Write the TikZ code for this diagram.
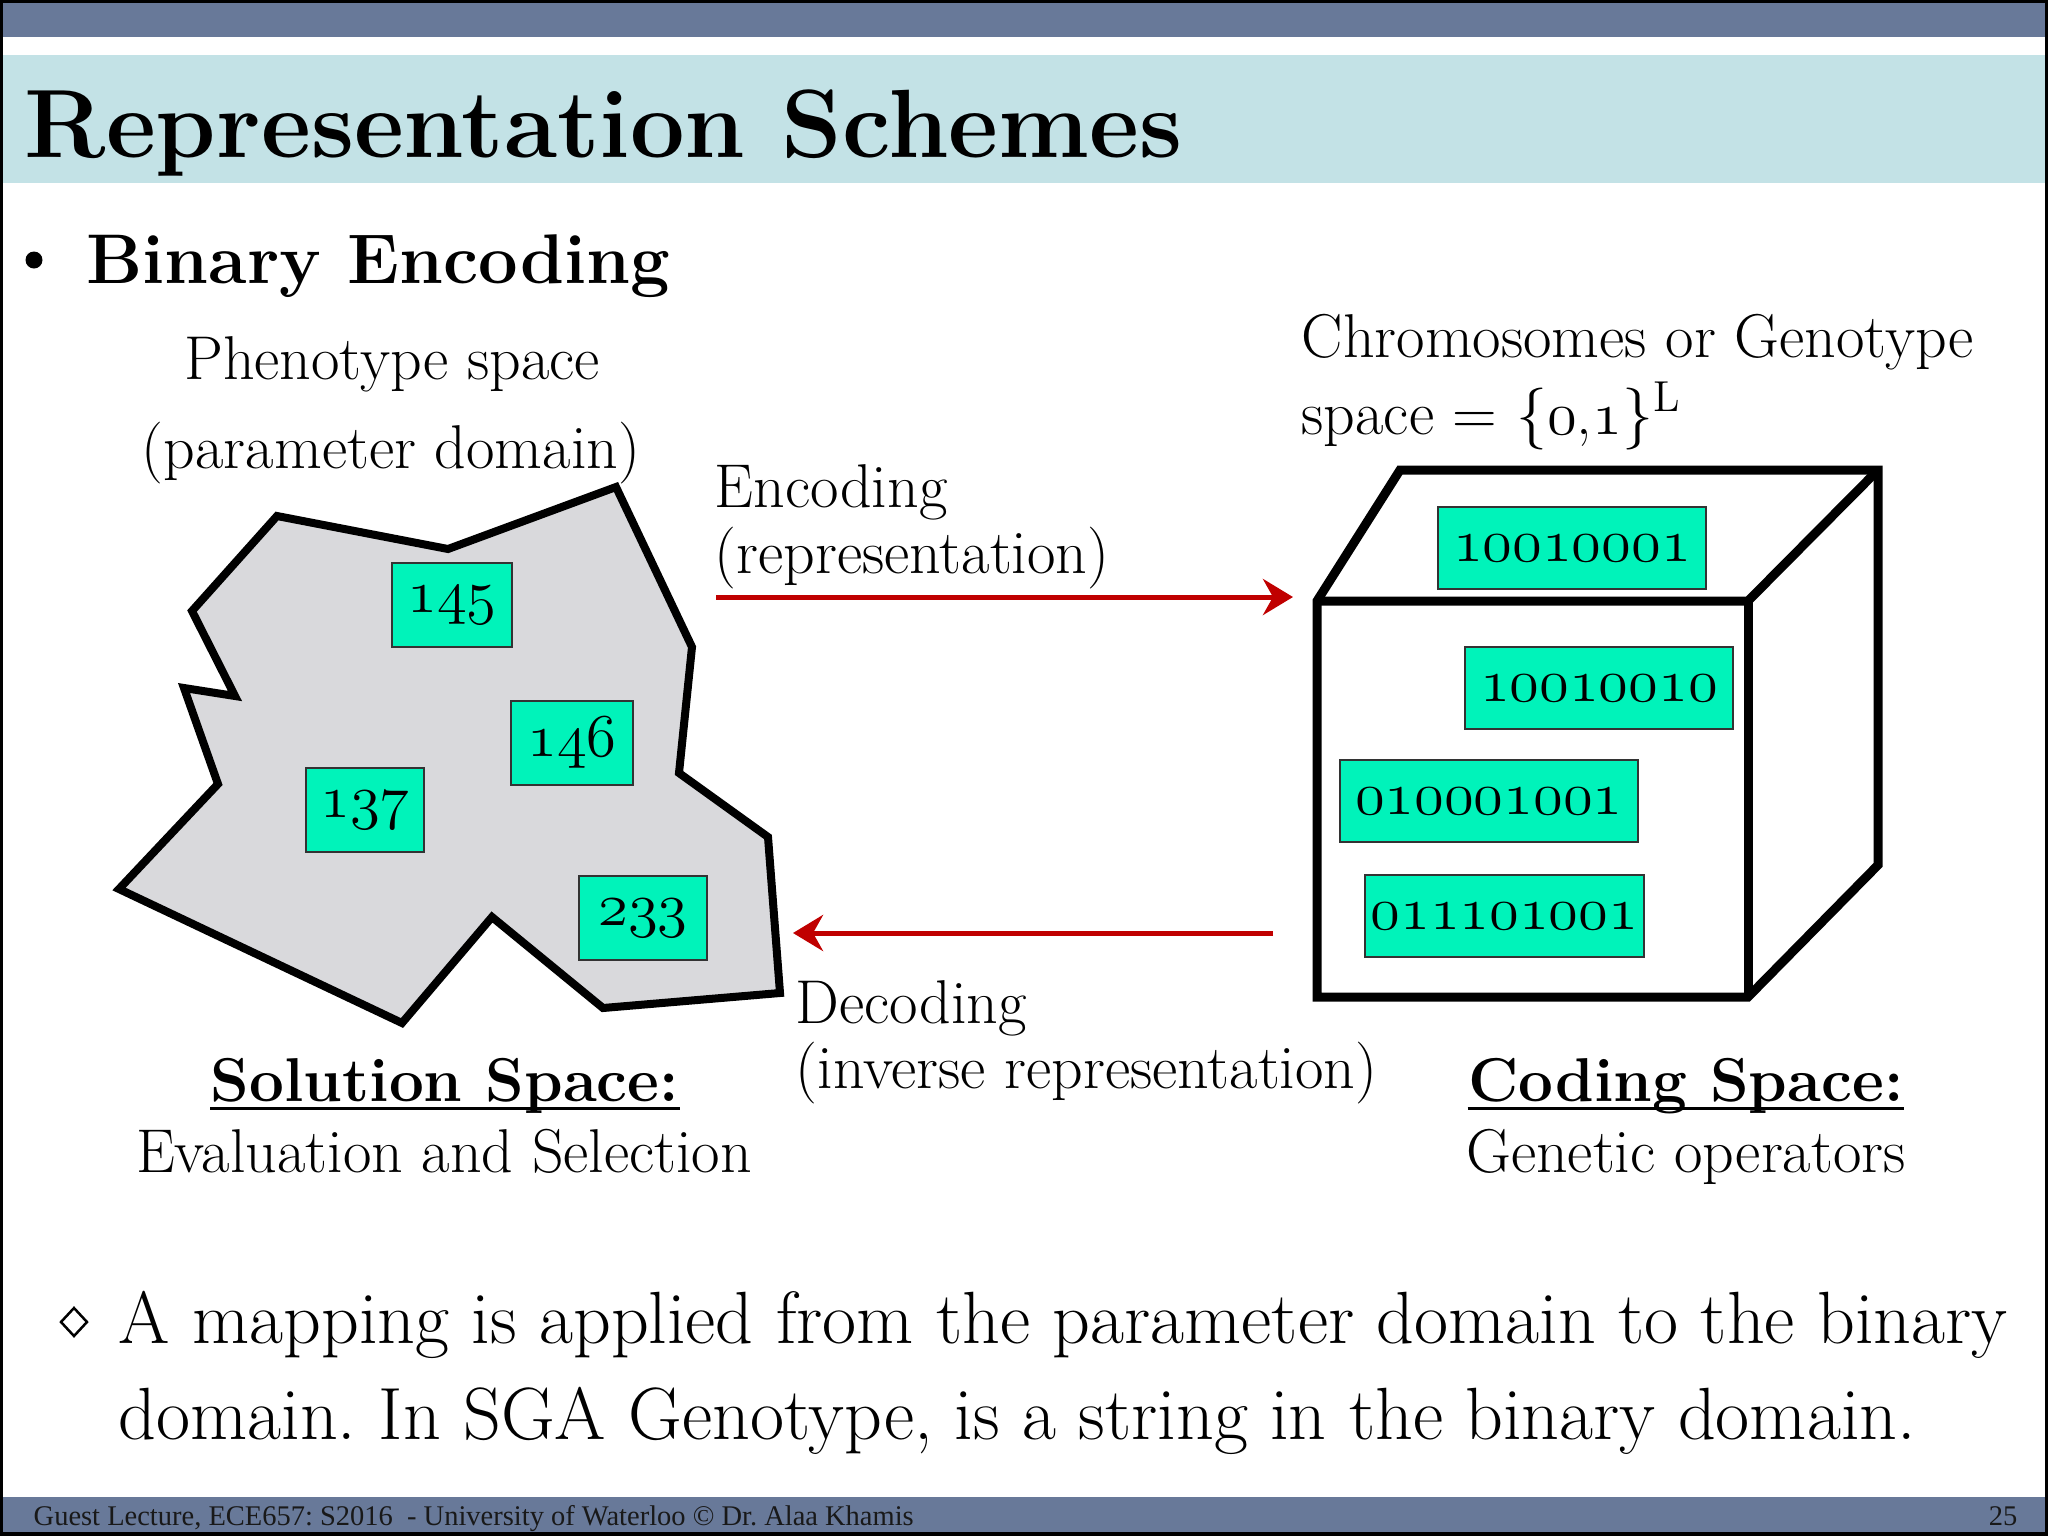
\documentclass[tikz,border=0pt]{standalone}
\usepackage{fontspec}
\newfontfamily\footfont{Liberation Serif}
\usetikzlibrary{arrows.meta}
\definecolor{barblue}{RGB}{104,121,153}
\definecolor{titlebg}{RGB}{195,226,230}
\definecolor{polyfill}{RGB}{217,217,220}
\definecolor{aqua}{RGB}{0,243,186}
\definecolor{arrowred}{RGB}{192,0,0}
\newcommand{\osn}[1]{{\usefont{OML}{cmm}{m}{it}#1}}
\frenchspacing
\tikzset{
  txt/.style={inner sep=0pt, anchor=base west, font=\fontsize{17.6}{21}\selectfont},
  ctxt/.style={inner sep=0pt, anchor=base, font=\fontsize{17.6}{21}\selectfont},
  bigtxt/.style={inner sep=0pt, anchor=base west, font=\fontsize{21.05}{25}\selectfont},
  numbox/.style={draw=black!80, line width=0.015cm, fill=aqua, inner sep=0pt,
    minimum height=0.84cm, font=\fontsize{17}{20}\selectfont},
  binbox/.style={draw=black!80, line width=0.015cm, fill=aqua, inner sep=0pt,
    minimum height=0.82cm, font=\fontsize{16.4}{20}\selectfont},
  redarrow/.style={draw=arrowred, line width=0.05cm,
    -{Stealth[length=0.30cm, width=0.36cm, inset=0.10cm]}},
  thickline/.style={line width=0.09cm, line join=miter},
}
\begin{document}
\begin{tikzpicture}[x=0.01cm, y=-0.01cm]
\useasboundingbox (0,0) rectangle (2048,1536);
% backgrounds
\fill[white] (0,0) rectangle (2048,1536);
\fill[barblue] (0,0) rectangle (2048,37);
\fill[black] (0,0) rectangle (2048,3);
\fill[titlebg] (0,55) rectangle (2048,183);
\fill[barblue] (0,1497) rectangle (2048,1536);
\fill[black] (0,1532) rectangle (2048,1536);
\fill[black] (0,0) rectangle (3,1536);
\fill[black] (2045,0) rectangle (2048,1536);

% title
\node[inner sep=0pt, anchor=base west, font=\fontsize{27.6}{32}\selectfont\bfseries] (title) at (24,157) {Representation Schemes};

% bullet
\fill[black] (34,260) circle (8.5);
\node[inner sep=0pt, anchor=base west, font=\fontsize{20}{24}\selectfont\bfseries] (binenc) at (86,283) {Binary Encoding};

% phenotype labels
\node[ctxt] (pheno1) at (392,379) {Phenotype space};
\node[ctxt] (pheno2) at (391,468) {(parameter domain)};

% genotype labels
\node[txt] (geno1) at (1301,357) {Chromosomes or Genotype};
\node[txt] (geno2) at (1301,434) {space = \{\osn{0},\osn{1}\}\textsuperscript{L}};

% polygon
\filldraw[fill=polyfill, draw=black, line width=0.08cm, line join=miter]
  (277,516) -- (448,549) -- (616,487) -- (692,647) -- (679,773) -- (768,837)
  -- (780,993) -- (603,1008) -- (492,917) -- (402,1023) -- (119,889)
  -- (218,784) -- (184,688) -- (235,696) -- (192,611) -- cycle;

\node[numbox, minimum width=1.20cm] (n145) at (452,605) {\osn{145}};
\node[numbox, minimum width=1.22cm] (n146) at (572,743) {\osn{146}};
\node[numbox, minimum width=1.18cm] (n137) at (365,810) {\osn{137}};
\node[numbox, minimum width=1.28cm] (n233) at (643,918) {\osn{233}};

% cube
\filldraw[fill=white, draw=black, thickline]
  (1317,601) -- (1400,470) -- (1878,470) -- (1878,865) -- (1748,997)
  -- (1317,997) -- cycle;
\draw[thickline] (1317,601) -- (1748,601) -- (1878,470);
\draw[thickline] (1748,601) -- (1748,997);

\node[binbox, minimum width=2.68cm] (b1) at (1572,548) {\osn{10010001}};
\node[binbox, minimum width=2.68cm] (b2) at (1599,688) {\osn{10010010}};
\node[binbox, minimum width=2.98cm] (b3) at (1489,801) {\osn{010001001}};
\node[binbox, minimum width=2.79cm] (b4) at (1504.5,916) {\osn{011101001}};

% encoding
\node[txt] (enc1) at (714,507) {Encoding};
\node[txt] (enc2) at (714,573) {(representation)};
\coordinate (encS) at (716,597);
\coordinate (encE) at (1293,597);
\draw[redarrow] (encS) -- (encE);

% decoding
\coordinate (decS) at (1273,933);
\coordinate (decE) at (793,933);
\draw[redarrow] (decS) -- (decE);
\node[txt] (dec1) at (795,1023) {Decoding};
\node[txt] (dec2) at (795,1088) {(inverse representation)};

% captions
\node[ctxt, font=\fontsize{17.6}{21}\selectfont\bfseries] (sol) at (445,1101) {Solution Space:};
\draw[line width=0.03cm] ([yshift=-0.07cm]sol.base west) -- ([yshift=-0.07cm]sol.base east);
\node[ctxt] (eval) at (444,1172) {Evaluation and Selection};
\node[ctxt, font=\fontsize{17.6}{21}\selectfont\bfseries] (cod) at (1686,1101) {Coding Space:};
\draw[line width=0.03cm] ([yshift=-0.07cm]cod.base west) -- ([yshift=-0.07cm]cod.base east);
\node[ctxt] (genop) at (1686,1172) {Genetic operators};

% bottom bullet
\draw[line width=0.025cm] (74,1308) -- (87,1322) -- (74,1336) -- (61,1322) -- cycle;
\node[bigtxt] (map1) at (118,1343) {A mapping is applied from the parameter domain to the binary};
\node[bigtxt] (map2) at (118,1439) {domain. In SGA Genotype, is a string in the binary domain.};

% footer
\node[inner sep=0pt, anchor=base west, font=\footfont\fontsize{8.1}{10}\selectfont, text=black!90] (foot) at (33,1525) {Guest Lecture, ECE657: S2016~~- University of Waterloo \textcopyright{} Dr. Alaa Khamis};
\node[inner sep=0pt, anchor=base east, font=\footfont\fontsize{8.1}{10}\selectfont, text=black!90] (pnum) at (2018,1525) {25};
\end{tikzpicture}
\end{document}
